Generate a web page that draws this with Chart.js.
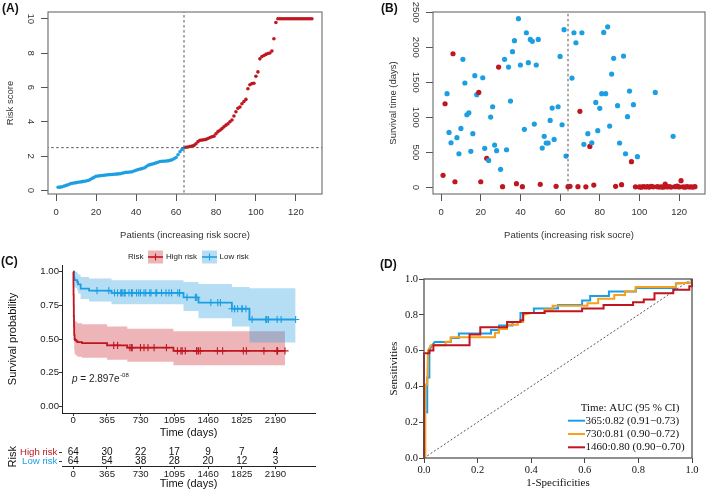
<!DOCTYPE html>
<html><head><meta charset="utf-8">
<script src="https://cdn.jsdelivr.net/npm/chart.js@4.4.1/dist/chart.umd.min.js"></script>
<style>
html,body{margin:0;padding:0;background:#fff}
body{width:709px;height:494px;position:relative;overflow:hidden}
canvas{position:absolute;display:block}
.pl{position:absolute;font:bold 12px "Liberation Sans",Arial,sans-serif;color:#111;line-height:1}
</style></head><body>
<canvas id="cA" style="left:0;top:0;width:355px;height:245px" width="355" height="245"></canvas>
<canvas id="cB" style="left:355px;top:0;width:354px;height:245px" width="354" height="245"></canvas>
<canvas id="cC" style="left:0;top:245px;width:355px;height:196px" width="355" height="196"></canvas>
<canvas id="cT" style="left:0;top:441px;width:355px;height:53px" width="355" height="53"></canvas>
<canvas id="cD" style="left:355px;top:245px;width:354px;height:249px" width="354" height="249"></canvas>
<div class="pl" style="left:2px;top:2px">(A)</div>
<div class="pl" style="left:381px;top:2px">(B)</div>
<div class="pl" style="left:1px;top:255px">(C)</div>
<div class="pl" style="left:380px;top:258px">(D)</div>
<script>
// ---------------- DATA ----------------
// (A) risk score of each patient, ordered by increasing risk
const riskScore = [
 0.18,0.19,0.21,0.25,0.29,0.33,0.38,0.41,0.43,0.45,0.47,0.49,0.51,0.53,0.55,0.58,0.63,0.70,0.76,0.82,
 0.84,0.85,0.87,0.88,0.90,0.91,0.92,0.93,0.94,0.95,0.96,0.97,1.00,1.03,1.05,1.06,1.07,1.09,1.13,1.17,
 1.21,1.24,1.27,1.30,1.37,1.46,1.50,1.53,1.56,1.60,1.64,1.68,1.70,1.70,1.71,1.72,1.75,1.78,1.84,1.92,
 2.08,2.25,2.38,2.47,2.51,2.53,2.56,2.58,2.62,2.72,2.84,2.92,2.93,2.95,2.97,3.02,3.08,3.12,3.16,3.30,
 3.42,3.50,3.60,3.70,3.80,3.88,4.00,4.10,4.33,4.58,4.78,4.86,5.05,5.18,5.30,5.92,6.15,6.22,6.24,6.65,
 6.90,7.66,7.80,7.86,7.92,7.97,8.00,8.12,8.83,9.78,10,10,10,10,10,10,10,10,10,10,
 10,10,10,10,10,10,10,10];
// (B) survival time (days) and status (1 = dead, 0 = alive) per patient, same order
const survTime = [
 171,1194,1337,785,637,1908,80,709,480,842, 1828,1490,1037,1065,514,766,1594,1323,1356,80,
 1565,557,414,385,1004,1151,604,523,1718,257, 10,1828,537,1718,1232,1937,2094,52,2408,1747,
 10,828,2208,1780,2113,2085,904,1747,2113,43, 561,728,633,633,956,1132,685,14,1151,1870,
 894,2251,447,10,14,1561,2208,2065,10,1085, 2208,614,8,766,585,637,33,1213,809,1128,
 1337,2213,1337,2293,875,1618,1842,14,1166,633, 38,1875,480,1009,1375,366,1180,8,438,6,
 3,12,5,9,4,15,7,1356,10,5, 8,3,45,6,11,4,728,9,18,6,
 95,7,3,12,5,8,4,10];
const survStatus = [
 1,1,0,0,0,1,1,0,0,0, 0,0,0,0,0,0,0,0,1,1,
 0,0,1,0,0,0,0,0,1,0, 1,0,0,0,0,0,0,1,0,0,
 1,0,0,0,0,0,0,0,0,1, 0,0,0,0,0,0,0,1,0,0,
 0,0,0,1,1,0,0,0,1,1, 0,0,1,0,1,0,1,0,0,0,
 0,0,0,0,0,0,0,1,0,0, 1,0,0,0,0,1,0,1,0,1,
 1,1,1,1,1,1,1,0,1,1, 1,1,1,1,1,1,0,1,1,1,
 1,1,1,1,1,1,1,1];
const cutoffIdx = 64, cutoffScore = 2.49;
const xTicksPat = [0,20,40,60,80,100,120];
const yTicksA = [0,2,4,6,8,10];
const yTicksB = [0,500,1000,1500,2000,2500];

// (C) Kaplan-Meier steps
const highT  = [0,2,3,5,6,8,10,14,20,33,45,95,366,585,1085,2293];
const highS  = [1,0.906,0.828,0.75,0.672,0.594,0.531,0.5,0.492,0.484,0.477,0.469,0.453,0.436,0.412,0.412];
const highUp = [1,0.98,0.926,0.864,0.797,0.727,0.673,0.639,0.632,0.625,0.617,0.609,0.593,0.576,0.557,0.557];
const highLo = [1,0.838,0.741,0.651,0.566,0.485,0.419,0.391,0.383,0.375,0.368,0.361,0.346,0.330,0.305,0.305];
const lowT  = [0,10,14,43,52,80,171,414,1194,1356,1718,1908,2408];
const lowS  = [1,0.953,0.938,0.922,0.906,0.875,0.859,0.843,0.809,0.771,0.725,0.645,0.645];
const lowUp = [1,1,0.999,0.990,0.980,0.960,0.949,0.937,0.924,0.908,0.887,0.877,0.877];
const lowLo = [1,0.903,0.880,0.858,0.838,0.798,0.778,0.758,0.709,0.655,0.592,0.474,0.474];
const highCensor = [438,480,614,633,637,728,766,809,875,1009,1128,1166,1180,1213,1337,1337,1356,1375,1561,1618,1842,1875,2065,2208,2208,2213,2293];
const lowCensor = [257,385,447,480,514,523,537,557,561,604,633,633,637,685,709,728,766,785,828,842,894,904,956,1004,1037,1065,1132,1151,1151,1232,1323,1337,1490,1565,1594,1718,1747,1747,1780,1828,1828,1870,1937,2085,2094,2113,2113,2208,2251,2408];
const kmTicks = [0,365,730,1095,1460,1825,2190];
const yTicksKM = [0,0.25,0.5,0.75,1];
const highAtRisk = [64,30,22,17,9,7,4];
const lowAtRisk  = [64,54,38,28,20,12,3];
const pValueText = ['2.897e','-08'];

// (D) time-dependent ROC curves
const fpr365 = [0,0,0.012,0.012,0.02,0.02,0.03,0.04,0.10,0.10,0.13,0.13,0.25,0.25,0.28,0.28,0.33,0.33,0.36,0.36,0.41,0.41,0.50,0.50,0.59,0.59,0.62,0.62,0.69,0.69,0.79,0.79,0.94,0.94,1.0,1.0];
const tpr365 = [0,0.255,0.255,0.45,0.45,0.60,0.63,0.648,0.648,0.67,0.67,0.695,0.695,0.715,0.715,0.74,0.74,0.76,0.76,0.81,0.81,0.835,0.835,0.855,0.855,0.88,0.88,0.905,0.905,0.93,0.93,0.95,0.95,0.975,0.98,1.0];
const fpr730 = [0.005,0.005,0.012,0.015,0.025,0.08,0.08,0.10,0.10,0.265,0.265,0.28,0.28,0.31,0.31,0.35,0.35,0.37,0.37,0.40,0.45,0.45,0.48,0.48,0.61,0.61,0.65,0.65,0.71,0.71,0.75,0.75,0.79,0.79,0.94,0.94,1.0,1.0];
const tpr730 = [0,0.41,0.41,0.60,0.63,0.63,0.65,0.65,0.675,0.675,0.70,0.70,0.72,0.72,0.745,0.745,0.76,0.76,0.80,0.81,0.81,0.83,0.83,0.85,0.85,0.865,0.865,0.89,0.89,0.91,0.91,0.93,0.93,0.955,0.955,0.975,0.98,1.0];
const fpr1460 = [0,0,0.02,0.02,0.035,0.035,0.17,0.17,0.21,0.21,0.31,0.31,0.36,0.36,0.37,0.37,0.45,0.45,0.59,0.59,0.67,0.67,0.78,0.78,0.82,0.82,0.86,0.86,0.93,0.93,0.99,0.99,1.0,1.0];
const tpr1460 = [0,0.585,0.585,0.60,0.60,0.63,0.63,0.69,0.69,0.73,0.73,0.76,0.76,0.77,0.77,0.81,0.81,0.82,0.82,0.835,0.835,0.855,0.855,0.87,0.87,0.885,0.885,0.92,0.92,0.94,0.94,0.96,0.96,1.0];
const rocLegend = ['365:0.82 (0.91\u22120.73)','730:0.81 (0.90\u22120.72)','1460:0.80 (0.90\u22120.70)'];
const rocTicks = [0,0.2,0.4,0.6,0.8,1.0];

// ---------------- STYLE ----------------
const BLUE='#1C9FE2', RED='#C0161F', ORANGE='#F6A01E';
const SANS='"Liberation Sans", Arial, sans-serif', SERIF='"Liberation Serif", "Times New Roman", serif';
Chart.defaults.font.family = SANS;
Chart.defaults.color = '#333';
Chart.defaults.animation = false;
Chart.defaults.devicePixelRatio = 1;

const fixTicks = vals => s => { s.ticks = vals.map(v => ({value: v})); };
const plain = v => String(v);
const boxPlugin = {id:'box', afterDatasetsDraw(chart, args, o){
  const a = chart.chartArea, c = chart.ctx; c.save(); c.strokeStyle = o.color; c.lineWidth = o.width;
  c.strokeRect(a.left, a.top, a.right - a.left, a.bottom - a.top); c.restore(); }};
const baseOpts = {responsive:false, animation:false, events:[], plugins:{legend:{display:false}, tooltip:{enabled:false}}};

function rX(min, max, ticks, title){
  return {type:'linear', min, max, afterBuildTicks:fixTicks(ticks), afterFit:s=>{s.height=51;},
    grid:{drawOnChartArea:false, tickLength:7, color:'#555', lineWidth:1}, border:{display:false},
    ticks:{autoSkip:false, maxRotation:0, font:{size:9.5, lineHeight:1}, color:'#333', padding:6.2, callback:plain},
    title:{display:true, text:title, font:{size:9.5}, color:'#333', padding:{top:0, bottom:4.3}}};
}
function rY(min, max, ticks, title, width, pad, tpad){
  return {type:'linear', min, max, afterBuildTicks:fixTicks(ticks), afterFit:s=>{s.width=width;},
    grid:{drawOnChartArea:false, tickLength:7, color:'#555', lineWidth:1}, border:{display:false},
    ticks:{autoSkip:false, minRotation:-90, maxRotation:-90, crossAlign:'center', font:{size:9.5, lineHeight:1}, color:'#333', padding:pad, callback:plain},
    title:{display:true, text:title, font:{size:9.5}, color:'#333', padding:{top:tpad, bottom:0}}};
}

// ---------------- (A) ----------------
new Chart(document.getElementById('cA'), {
  type:'scatter',
  data:{datasets:[
    {data:riskScore.map((v,i)=>({x:i+1, y:v})), pointRadius:1.8, pointBorderWidth:0,
     pointBackgroundColor:riskScore.map(v => v < cutoffScore ? BLUE : RED), order:2},
    {type:'line', data:[{x:cutoffIdx, y:-1},{x:cutoffIdx, y:11}], borderColor:'#555', borderWidth:1, borderDash:[2.5,2.5], pointRadius:0, order:1},
    {type:'line', data:[{x:-10, y:cutoffScore},{x:140, y:cutoffScore}], borderColor:'#555', borderWidth:1, borderDash:[2.5,2.5], pointRadius:0, order:1}
  ]},
  options:{...baseOpts, layout:{padding:{top:12, right:33, left:0, bottom:0}},
    plugins:{...baseOpts.plugins, box:{color:'#6a6a6a', width:1.1}},
    scales:{x:rX(-4.08, 133.08, xTicksPat, 'Patients (increasing risk socre)'),
            y:rY(-0.21, 10.39, yTicksA, 'Risk score', 48, 4.7, 4.3)}},
  plugins:[boxPlugin]
});

// ---------------- (B) ----------------
new Chart(document.getElementById('cB'), {
  type:'scatter',
  data:{datasets:[
    {data:survTime.map((v,i)=>({x:i+1, y:v})), pointRadius:2.6, pointBorderWidth:0,
     pointBackgroundColor:survStatus.map(s => s ? RED : BLUE), order:2},
    {type:'line', data:[{x:cutoffIdx, y:-200},{x:cutoffIdx, y:2700}], borderColor:'#555', borderWidth:1, borderDash:[2.5,2.5], pointRadius:0, order:1}
  ]},
  options:{...baseOpts, layout:{padding:{top:12, right:4, left:0, bottom:0}},
    plugins:{...baseOpts.plugins, box:{color:'#6a6a6a', width:1.1}},
    scales:{x:rX(-4.08, 133.08, xTicksPat, 'Patients (increasing risk socre)'),
            y:rY(-95, 2504, yTicksB, 'Survival time (days)', 78, -0.6, 32.3)}},
  plugins:[boxPlugin]
});

// ---------------- (C) KM ----------------
const pts = (T, S) => T.map((t, i) => ({x:t, y:S[i]}));
function survAt(T, S, t){ let v = S[0]; for (let i = 0; i < T.length; i++) if (T[i] <= t) v = S[i]; return v; }
const kmX = (h, tpad, tbot) => ({type:'linear', min:-122, max:2618, afterBuildTicks:fixTicks(kmTicks), afterFit:s=>{s.height=h;},
  grid:{drawOnChartArea:false, tickLength:3, color:'#333', lineWidth:1}, border:{display:true, color:'#222', width:1},
  ticks:{autoSkip:false, maxRotation:0, font:{size:9.6, lineHeight:1}, color:'#222', padding:tpad, callback:plain},
  title:{display:true, text:'Time (days)', font:{size:11}, color:'#111', padding:{top:0, bottom:tbot}}});

const legendC = {id:'legC', afterDraw(chart){
  const c = chart.ctx; c.save();
  c.font = '8px ' + SANS; c.fillStyle = '#222'; c.textBaseline = 'middle'; c.textAlign = 'left';
  c.fillText('Risk', 128, 12);
  const key = (x, col, fill) => {
    c.fillStyle = fill; c.fillRect(x, 5.5, 15, 13);
    c.strokeStyle = col; c.lineWidth = 1.6; c.beginPath(); c.moveTo(x, 12); c.lineTo(x + 15, 12); c.stroke();
    c.lineWidth = 1.1; c.beginPath(); c.moveTo(x + 7.5, 8.5); c.lineTo(x + 7.5, 15.5); c.stroke();
  };
  key(148, RED, 'rgba(200,30,40,0.33)');
  key(202, BLUE, 'rgba(30,155,225,0.33)');
  c.fillStyle = '#222'; c.fillText('High risk', 166, 12); c.fillText('Low risk', 219.5, 12);
  // p value
  c.font = 'italic 10px ' + SANS; c.fillText('p', 72, 134);
  const pw = c.measureText('p').width;
  c.font = '10px ' + SANS; c.fillText(' = ' + pValueText[0], 72 + pw, 134);
  const w2 = c.measureText(' = ' + pValueText[0]).width;
  c.font = '6px ' + SANS; c.fillText(pValueText[1], 72 + pw + w2 + 0.5, 130);
  c.restore();
}};

new Chart(document.getElementById('cC'), {
  type:'line',
  data:{datasets:[
    {data:pts(highT, highUp), stepped:true, borderWidth:0, pointRadius:0, fill:'+1', backgroundColor:'rgba(200,30,40,0.33)', order:10},
    {data:pts(highT, highLo), stepped:true, borderWidth:0, pointRadius:0, fill:false, order:10},
    {data:pts(lowT, lowUp), stepped:true, borderWidth:0, pointRadius:0, fill:'+1', backgroundColor:'rgba(30,155,225,0.33)', order:9},
    {data:pts(lowT, lowLo), stepped:true, borderWidth:0, pointRadius:0, fill:false, order:9},
    {data:pts(highT, highS), stepped:true, borderColor:RED, borderWidth:1.8, pointRadius:0, fill:false, order:5},
    {data:pts(lowT, lowS), stepped:true, borderColor:BLUE, borderWidth:1.8, pointRadius:0, fill:false, order:5},
    {data:highCensor.map(t => ({x:t, y:survAt(highT, highS, t)})), showLine:false, pointStyle:'cross', pointRadius:3.6, borderColor:RED, pointBorderWidth:1.1, order:1},
    {data:lowCensor.map(t => ({x:t, y:survAt(lowT, lowS, t)})), showLine:false, pointStyle:'cross', pointRadius:3.6, borderColor:BLUE, pointBorderWidth:1.1, order:1}
  ]},
  options:{...baseOpts, layout:{padding:{top:20, right:40, left:0, bottom:0}},
    scales:{x:kmX(28, 0, 1.4),
      y:{type:'linear', min:-0.05, max:1.05, afterBuildTicks:fixTicks(yTicksKM), afterFit:s=>{s.width=62;},
         grid:{drawOnChartArea:false, tickLength:3, color:'#333'}, border:{display:true, color:'#222', width:1},
         ticks:{autoSkip:false, font:{size:9.6, lineHeight:1}, color:'#222', padding:0, callback:v => v.toFixed(2)},
         title:{display:true, text:'Survival probability', font:{size:11}, color:'#111', padding:{top:6.4, bottom:0}}}}},
  plugins:[legendC]
});

// ---------------- (C) risk table ----------------
const tablePlugin = {id:'tbl', afterDatasetsDraw(chart){
  const c = chart.ctx, xs = chart.scales.x, ys = chart.scales.y; c.save();
  c.font = '10px ' + SANS; c.fillStyle = '#111'; c.textAlign = 'center'; c.textBaseline = 'middle';
  kmTicks.forEach((t, i) => {
    c.fillText(String(highAtRisk[i]), xs.getPixelForValue(t), ys.getPixelForValue(1));
    c.fillText(String(lowAtRisk[i]), xs.getPixelForValue(t), ys.getPixelForValue(0));
  });
  c.restore();
}};
new Chart(document.getElementById('cT'), {
  type:'scatter', data:{datasets:[{data:[], pointRadius:0}]},
  options:{...baseOpts, layout:{padding:{top:6.5, right:40, left:0, bottom:0}},
    scales:{x:kmX(28, 0.2, 3.4),
      y:{type:'linear', min:-0.5, max:1.5, afterBuildTicks:fixTicks([0,1]), afterFit:s=>{s.width=62;},
         grid:{drawOnChartArea:false, tickLength:3, color:'#333'}, border:{display:false},
         ticks:{autoSkip:false, font:{size:9.6, lineHeight:1}, padding:1.7,
                color:ctx => ctx.tick && ctx.tick.value === 1 ? RED : BLUE,
                callback:v => v === 1 ? 'High risk' : 'Low risk'},
         title:{display:true, text:'Risk', font:{size:11}, color:'#111', padding:{top:6.4, bottom:0}}}}},
  plugins:[tablePlugin]
});

// ---------------- (D) ROC ----------------
const legendD = {id:'legD', afterDraw(chart){
  const c = chart.ctx; c.save();
  c.font = '11px ' + SERIF; c.fillStyle = '#111'; c.textBaseline = 'middle';
  c.textAlign = 'center'; c.fillText('Time: AUC (95 % CI)', 275, 162.7);
  c.textAlign = 'left';
  [BLUE, ORANGE, RED].forEach((col, i) => {
    const y = 175.7 + i * 13.3;
    c.strokeStyle = col; c.lineWidth = 2; c.beginPath(); c.moveTo(213, y); c.lineTo(230, y); c.stroke();
    c.fillText(rocLegend[i], 230.5, y);
  });
  c.restore();
}};
const rocAxis = (isX) => ({type:'linear', min:0, max:1, afterBuildTicks:fixTicks(rocTicks),
  afterFit: isX ? (s => {s.height = 36;}) : (s => {s.width = 69;}),
  grid:{drawOnChartArea:false, tickLength:5, color:'#444'}, border:{display:false},
  ticks:{autoSkip:false, maxRotation:0, font:{family:SERIF, size:10.5, lineHeight:1}, color:'#111', padding: isX ? 1.7 : 1, callback:v => v.toFixed(1)},
  title:{display:true, text: isX ? '1-Specificities' : 'Sensitivities', font:{family:SERIF, size:11}, color:'#111',
         padding: isX ? {top:0, bottom:4.4} : {top:32.4, bottom:0}}});
const rocPts = (F, T) => F.map((f, i) => ({x:f, y:T[i]}));
new Chart(document.getElementById('cD'), {
  type:'line',
  data:{datasets:[
    {data:[{x:0,y:0},{x:1,y:1}], borderColor:'#444', borderWidth:0.9, borderDash:[2,2], pointRadius:0, order:9},
    {data:rocPts(fpr365, tpr365), borderColor:BLUE, borderWidth:2, pointRadius:0, order:4, clip:3},
    {data:rocPts(fpr730, tpr730), borderColor:ORANGE, borderWidth:2, pointRadius:0, order:3, clip:3},
    {data:rocPts(fpr1460, tpr1460), borderColor:RED, borderWidth:2, pointRadius:0, order:2, clip:3}
  ]},
  options:{...baseOpts, layout:{padding:{top:34, right:17, left:0, bottom:0}},
    plugins:{...baseOpts.plugins, box:{color:'#555', width:1.3}},
    scales:{x:rocAxis(true), y:rocAxis(false)}},
  plugins:[boxPlugin, legendD]
});
</script>
</body></html>
